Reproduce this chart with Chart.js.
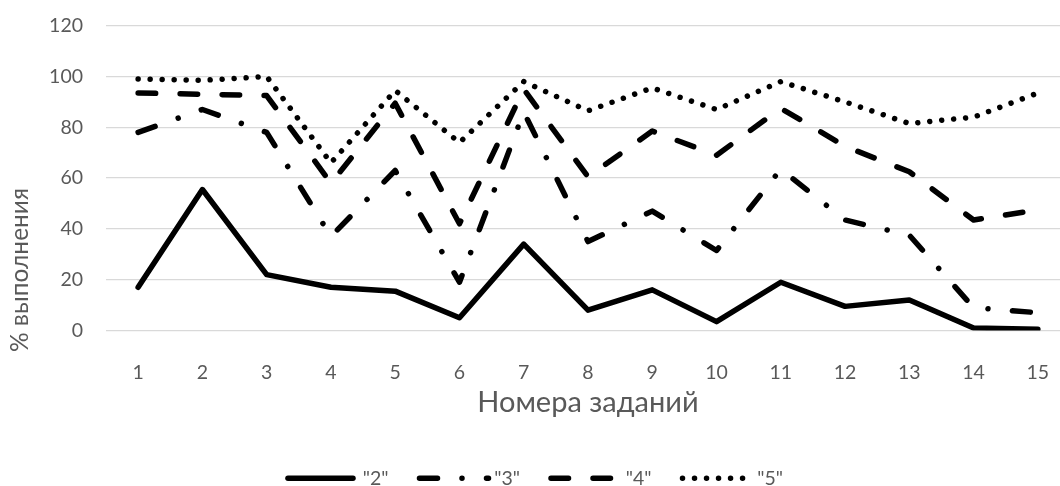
<!DOCTYPE html>
<html lang="ru">
<head>
<meta charset="utf-8">
<title>% выполнения по заданиям</title>
<script src="https://cdn.jsdelivr.net/npm/chart.js@4.4.1/dist/chart.umd.min.js"></script>
<style>
  html, body { margin: 0; padding: 0; background: #fff; }
  #frame { width: 1060px; height: 486px; overflow: hidden; position: relative; }
  #box { width: 1080px; height: 498px; position: absolute; left: 0; top: 0; }
</style>
</head>
<body>
<div id="frame"><div id="box"><canvas id="chartTasks"></canvas></div></div>
<script>
// ── DATA ──
const tasks  = ['1','2','3','4','5','6','7','8','9','10','11','12','13','14','15'];
const grade2 = [17, 55.5, 22, 17, 15.5, 5, 34, 8, 16, 3.5, 19, 9.5, 12, 1, 0.5];
const grade3 = [78, 87, 78, 37, 63, 19, 86, 35, 47, 31.5, 63.5, 43.5, 37.5, 9, 7];
const grade4 = [93.5, 93, 92.5, 58, 89.5, 42, 95, 60.5, 78.5, 69, 87.5, 72.5, 62.5, 43.5, 47.5];
const grade5 = [99, 98.5, 100, 66, 94.5, 74, 98, 86.5, 95.5, 87, 98, 90, 81.5, 84, 93.5];
const yTicks = [0, 20, 40, 60, 80, 100, 120];

const TXT = '#595959';
const FONT = 'Lato';

// y-axis title sits lower than the plot centre in the original, so draw it by hand
const yTitlePlugin = {
  id: 'yTitle',
  afterDraw(chart) {
    const ctx = chart.ctx;
    ctx.save();
    ctx.translate(20, 270);
    ctx.rotate(-Math.PI / 2);
    ctx.font = '24.5px ' + FONT;
    ctx.fillStyle = TXT;
    ctx.textAlign = 'center';
    ctx.textBaseline = 'middle';
    ctx.fillText('% выполнения', 0, 0);
    ctx.restore();
  }
};

// legend samples drawn by hand so the dash patterns show
const legendLines = {
  id: 'legendLines',
  afterDraw(chart) {
    const ctx = chart.ctx;
    const boxes = chart.legend.legendHitBoxes || [];
    boxes.forEach((b, i) => {
      const ds = chart.data.datasets[i];
      const y = b.top + b.height / 2;
      const end = ds.borderDash.length ? 70 : 66;
      ctx.save();
      ctx.strokeStyle = '#000';
      ctx.lineWidth = ds.borderWidth;
      ctx.lineCap = 'round';
      ctx.setLineDash(ds.borderDash);
      ctx.beginPath();
      ctx.moveTo(b.left + 1, y);
      ctx.lineTo(b.left + end, y);
      ctx.stroke();
      ctx.restore();
    });
  }
};

function lineSet(label, data, dash) {
  return {
    label, data,
    borderColor: '#000', backgroundColor: '#000',
    borderWidth: 5.5, borderDash: dash,
    borderCapStyle: 'round', borderJoinStyle: 'round',
    pointRadius: 0, pointHoverRadius: 0, tension: 0, fill: false
  };
}

new Chart(document.getElementById('chartTasks'), {
  type: 'line',
  data: {
    labels: tasks,
    datasets: [
      lineSet('"2"', grade2, []),
      lineSet('"3"', grade3, [18, 24.5, 0.01, 24.5]),
      lineSet('"4"', grade4, [17.5, 24.5]),
      lineSet('"5"', grade5, [0.01, 12])
    ]
  },
  options: {
    responsive: true, maintainAspectRatio: false, animation: false,
    layout: { padding: { top: 25.7, right: 10, left: 0, bottom: 0 } },
    scales: {
      x: {
        offset: true,
        grid: { display: false },
        border: { display: false },
        ticks: { color: TXT, font: { family: FONT, size: 19.5 }, padding: 23, maxRotation: 0 },
        title: { display: true, text: 'Номера заданий', color: TXT,
                 font: { family: FONT, size: 29 }, padding: { top: 0, bottom: 18 } },
        afterFit: s => { s.height = 108; }
      },
      y: {
        min: yTicks[0], max: yTicks[yTicks.length - 1],
        afterBuildTicks: s => { s.ticks = yTicks.map(v => ({ value: v })); },
        grid: { color: '#d9d9d9', lineWidth: 1.3, drawTicks: false },
        border: { display: false },
        ticks: { color: TXT, font: { family: FONT, size: 19.5 }, padding: 23 },
        // tick padding would otherwise push the plot top down
        afterFit: s => { s.width = 106; s.paddingTop = 0; s.paddingBottom = 0; }
      }
    },
    plugins: {
      legend: {
        position: 'bottom',
        labels: {
          usePointStyle: true, pointStyle: 'line', pointStyleWidth: 66,
          color: TXT, font: { family: FONT, size: 19.5 }, padding: 30,
          generateLabels: ch => ch.data.datasets.map((ds, i) => ({
            text: ds.label, datasetIndex: i, fontColor: TXT,
            strokeStyle: 'rgba(0,0,0,0)', fillStyle: 'rgba(0,0,0,0)', lineWidth: 0, pointStyle: 'line'
          }))
        }
      },
      tooltip: { enabled: false }
    }
  },
  plugins: [yTitlePlugin, legendLines]
});
</script>
</body>
</html>
